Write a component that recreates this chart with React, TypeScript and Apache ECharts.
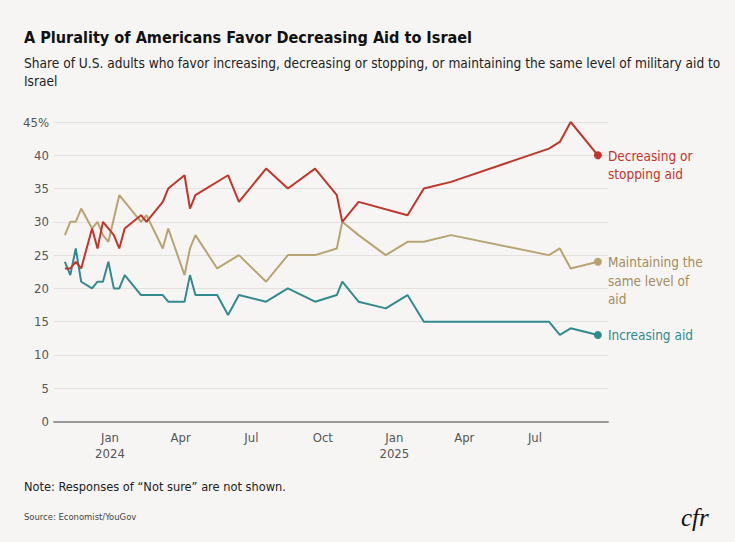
import { useEffect, useRef } from "react";
import * as echarts from "echarts";

// ----- data -----
const decreasingDates = [
    "2023-11-04", "2023-11-11", "2023-11-18", "2023-11-25", "2023-12-09", "2023-12-16", "2023-12-23",
    "2024-01-06", "2024-01-13", "2024-01-20", "2024-02-10", "2024-02-17", "2024-03-09", "2024-03-16",
    "2024-04-06", "2024-04-13", "2024-04-20", "2024-06-01", "2024-06-15", "2024-07-20", "2024-08-17",
    "2024-09-21", "2024-10-19", "2024-10-26", "2024-11-16", "2025-01-18", "2025-02-08", "2025-03-15",
    "2025-07-19", "2025-08-02", "2025-08-16", "2025-09-20",
];
const decreasingValues = [
    23, 23, 24, 23, 29, 26, 30,
    28, 26, 29, 31, 30, 33, 35,
    37, 32, 34, 37, 33, 38, 35,
    38, 34, 30, 33, 31, 35, 36,
    41, 42, 45, 40,
];

const maintainingDates = [
    "2023-11-04", "2023-11-11", "2023-11-18", "2023-11-25", "2023-12-09", "2023-12-16", "2023-12-23",
    "2023-12-30", "2024-01-13", "2024-02-10", "2024-02-17", "2024-03-09", "2024-03-16", "2024-04-06",
    "2024-04-13", "2024-04-20", "2024-05-18", "2024-06-15", "2024-07-20", "2024-08-17", "2024-09-21",
    "2024-10-19", "2024-10-26", "2024-11-16", "2024-12-21", "2025-01-18", "2025-02-08", "2025-03-15",
    "2025-07-19", "2025-08-02", "2025-08-16", "2025-09-20",
];
const maintainingValues = [
    28, 30, 30, 32, 29, 30, 28,
    27, 34, 30, 31, 26, 29, 22,
    26, 28, 23, 25, 21, 25, 25,
    26, 30, 28, 25, 27, 27, 28,
    25, 26, 23, 24,
];

const increasingDates = [
    "2023-11-04", "2023-11-11", "2023-11-18", "2023-11-25", "2023-12-09", "2023-12-16", "2023-12-23",
    "2023-12-30", "2024-01-06", "2024-01-13", "2024-01-20", "2024-02-10", "2024-03-09", "2024-03-16",
    "2024-04-06", "2024-04-13", "2024-04-20", "2024-05-18", "2024-06-01", "2024-06-15", "2024-07-20",
    "2024-08-17", "2024-09-21", "2024-10-19", "2024-10-26", "2024-11-16", "2024-12-21", "2025-01-18",
    "2025-02-08", "2025-07-19", "2025-08-02", "2025-08-16", "2025-09-20",
];
const increasingValues = [
    24, 22, 26, 21, 20, 21, 21,
    24, 20, 20, 22, 19, 19, 18,
    18, 22, 19, 19, 16, 19, 18,
    20, 18, 19, 21, 18, 17, 19,
    15, 15, 13, 14, 13,
];

const seriesLabels = ["Decreasing or\nstopping aid", "Maintaining the\nsame level of\naid", "Increasing aid"];
const lineColors = ["#c1352b", "#b8a472", "#338a8e"];
const labelColors = ["#c1352b", "#a38d5c", "#2f8a8e"];

const xTickDates = ["2024-01-01", "2024-04-01", "2024-07-01", "2024-10-01", "2025-01-01", "2025-04-01", "2025-07-01"];
const xTickLabels = ["Jan\n2024", "Apr", "Jul", "Oct", "Jan\n2025", "Apr", "Jul"];
const yTickTop = 45;

const FONT = "'DejaVu Sans Condensed', 'DejaVu Sans', sans-serif";
const BG = "#f6f5f3";

const toTime = (d: string) => new Date(d + "T00:00:00").getTime();

export default function App() {
    const containerRef = useRef<HTMLDivElement | null>(null);

    useEffect(() => {
        if (!containerRef.current) return;
        document.body.style.margin = "0";
        document.body.style.background = BG;

        const chart = echarts.init(containerRef.current, undefined, { renderer: "svg" });

        const tickTimes = xTickDates.map(toTime);
        const sets = [
            [decreasingDates, decreasingValues],
            [maintainingDates, maintainingValues],
            [increasingDates, increasingValues],
        ] as const;

        const series = sets.map(([dates, values], k) => {
            const last = values.length - 1;
            return {
                name: seriesLabels[k],
                type: "line" as const,
                data: dates.map((d, i) => [toTime(d), values[i]]),
                symbol: "circle",
                symbolSize: (_v: any, p: any) => (p.dataIndex === last ? 8 : 0),
                showSymbol: true,
                showAllSymbol: true,
                itemStyle: { color: lineColors[k] },
                lineStyle: { color: lineColors[k], width: 2 },
                emphasis: { disabled: true },
                endLabel: {
                    show: true,
                    formatter: seriesLabels[k],
                    color: labelColors[k],
                    fontFamily: FONT,
                    fontSize: 13.5,
                    lineHeight: 18.5,
                    verticalAlign: "top",
                    offset: [0, -9],
                    distance: 10,
                },
                z: 3 - k,
            };
        });

        chart.setOption({
            animation: false,
            backgroundColor: BG,
            textStyle: { fontFamily: FONT },
            title: [
                {
                    text: "A Plurality of Americans Favor Decreasing Aid to Israel",
                    left: 24,
                    top: 26,
                    padding: 0,
                    textStyle: { fontFamily: FONT, fontSize: 16.1, fontWeight: "bold", color: "#111", lineHeight: 22 },
                },
                {
                    text: "Share of U.S. adults who favor increasing, decreasing or stopping, or maintaining the same level of military aid to\nIsrael",
                    left: 24,
                    top: 54,
                    padding: 0,
                    textStyle: { fontFamily: FONT, fontSize: 13.6, fontWeight: "normal", color: "#222", lineHeight: 18 },
                },
                {
                    text: "Note: Responses of \u201cNot sure\u201d are not shown.",
                    left: 24,
                    top: 478,
                    padding: 0,
                    textStyle: { fontFamily: FONT, fontSize: 12.7, fontWeight: "normal", color: "#222", lineHeight: 16 },
                },
                {
                    text: "Source: Economist/YouGov",
                    left: 24,
                    top: 509,
                    padding: 0,
                    textStyle: { fontFamily: FONT, fontSize: 9.4, fontWeight: "normal", color: "#444", lineHeight: 14 },
                },
                {
                    text: "cfr",
                    left: 681,
                    top: 505,
                    padding: 0,
                    textStyle: { fontFamily: "'Liberation Serif', 'DejaVu Serif', serif", fontSize: 25, fontStyle: "italic", fontWeight: "normal", color: "#111" },
                },
            ],
            grid: { left: 54, right: 127, top: 122, bottom: 120.5, outerBoundsMode: "none" },
            tooltip: { show: false },
            xAxis: {
                type: "value",
                min: toTime("2023-10-21"),
                max: toTime("2025-10-03"),
                axisLine: { show: true, onZero: false, lineStyle: { color: "#999", width: 2 } },
                axisTick: { show: false },
                splitLine: { show: false },
                axisLabel: {
                    customValues: tickTimes,
                    formatter: (v: number) => {
                        const i = tickTimes.indexOf(v);
                        return i >= 0 ? xTickLabels[i] : "";
                    },
                    color: "#555",
                    fontFamily: FONT,
                    fontSize: 13,
                    lineHeight: 16,
                    margin: 8,
                    hideOverlap: false,
                },
            },
            yAxis: {
                type: "value",
                min: 0,
                max: yTickTop,
                interval: 5,
                axisLine: { show: false },
                axisTick: { show: false },
                splitLine: { lineStyle: { color: "#e2e1de", width: 1 } },
                axisLabel: {
                    formatter: (v: number) => (v === yTickTop ? `${v}%` : `${v}`),
                    color: "#555",
                    fontFamily: FONT,
                    fontSize: 13,
                    margin: 5,
                },
            },
            series,
        });

        return () => {
            chart.dispose();
        };
    }, []);

    return <div ref={containerRef} style={{ width: 735, height: 542 }} />;
}
